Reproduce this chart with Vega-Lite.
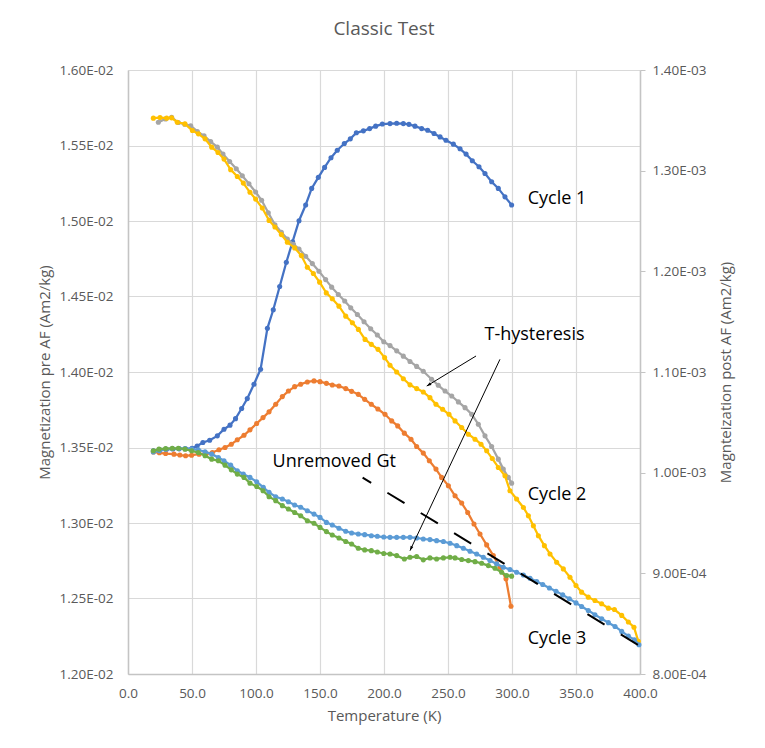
{
  "$schema": "https://vega.github.io/schema/vega-lite/v6.json",
  "width": 512,
  "height": 604,
  "autosize": {"type": "none"},
  "padding": {"left": 128, "top": 70, "right": 125, "bottom": 74},
  "background": "white",
  "title": {"text": "Classic Test", "font": "Open Sans", "fontSize": 19, "fontWeight": "normal", "color": "#595959", "anchor": "middle", "offset": 24},
  "config": {
    "view": {"stroke": null},
    "axis": {"labelFont": "Open Sans", "titleFont": "Open Sans", "labelColor": "#595959", "titleColor": "#595959", "titleFontWeight": "normal", "labelFontSize": 13.5, "titleFontSize": 15, "domainColor": "#C4C4C4", "domainWidth": 1.5, "gridColor": "#D9D9D9", "gridWidth": 1.2, "tickColor": "#C4C4C4"},
    "text": {"font": "Open Sans"}
  },
  "datasets": {
    "s1": [{"T":19.8,"M":0.013478},{"T":25,"M":0.013484},{"T":30,"M":0.013488},{"T":35,"M":0.01349},{"T":40,"M":0.013491},{"T":45,"M":0.013492},{"T":50,"M":0.013495},{"T":54,"M":0.01351},{"T":58.5,"M":0.013533},{"T":63.8,"M":0.013548},{"T":69.8,"M":0.013577},{"T":75,"M":0.013621},{"T":79.7,"M":0.013648},{"T":84,"M":0.013691},{"T":88.8,"M":0.013758},{"T":93.2,"M":0.013824},{"T":98.4,"M":0.013919},{"T":103.6,"M":0.014018},{"T":108.9,"M":0.014289},{"T":113.5,"M":0.014412},{"T":118.5,"M":0.014566},{"T":123.7,"M":0.014727},{"T":128.6,"M":0.014863},{"T":133.6,"M":0.015002},{"T":138.8,"M":0.015106},{"T":143.5,"M":0.015216},{"T":148.7,"M":0.015289},{"T":153.6,"M":0.015355},{"T":158.6,"M":0.015419},{"T":163.5,"M":0.015469},{"T":169,"M":0.015513},{"T":173.7,"M":0.015544},{"T":178.4,"M":0.015584},{"T":183.9,"M":0.015597},{"T":188.8,"M":0.015612},{"T":193.5,"M":0.015628},{"T":198.7,"M":0.015642},{"T":204.7,"M":0.015645},{"T":209.9,"M":0.015647},{"T":215.1,"M":0.015645},{"T":219.5,"M":0.01564},{"T":224.2,"M":0.015628},{"T":229.4,"M":0.015612},{"T":234.1,"M":0.015601},{"T":239.1,"M":0.015579},{"T":243.8,"M":0.015557},{"T":248.4,"M":0.015535},{"T":254.2,"M":0.015509},{"T":259.4,"M":0.015478},{"T":264.1,"M":0.015443},{"T":269,"M":0.015399},{"T":274.2,"M":0.015359},{"T":278.9,"M":0.015315},{"T":284.1,"M":0.01526},{"T":289.3,"M":0.015216},{"T":294.5,"M":0.01516},{"T":299.7,"M":0.015106}],
    "s2": [{"T":19.8,"M":0.013471},{"T":24.5,"M":0.013465},{"T":29.4,"M":0.01346},{"T":35.9,"M":0.013456},{"T":40.5,"M":0.01345},{"T":45,"M":0.013445},{"T":49.7,"M":0.013449},{"T":55.5,"M":0.013456},{"T":61.2,"M":0.01346},{"T":65.9,"M":0.013467},{"T":71.1,"M":0.013485},{"T":75.8,"M":0.0135},{"T":80.7,"M":0.013522},{"T":85.4,"M":0.013551},{"T":90.6,"M":0.013581},{"T":95.3,"M":0.013617},{"T":100.5,"M":0.013659},{"T":105.5,"M":0.013698},{"T":110.2,"M":0.013736},{"T":115.4,"M":0.013786},{"T":120.6,"M":0.013837},{"T":125.3,"M":0.013874},{"T":130.2,"M":0.013903},{"T":134.9,"M":0.013919},{"T":140.1,"M":0.013934},{"T":145.3,"M":0.013941},{"T":150,"M":0.013936},{"T":155,"M":0.013925},{"T":159.6,"M":0.013914},{"T":164.8,"M":0.013907},{"T":170.1,"M":0.01389},{"T":174.7,"M":0.013872},{"T":179.9,"M":0.013852},{"T":184.9,"M":0.013819},{"T":190.1,"M":0.013786},{"T":195.2,"M":0.013755},{"T":200.8,"M":0.01372},{"T":206,"M":0.013676},{"T":210.7,"M":0.013643},{"T":215.9,"M":0.013595},{"T":221.1,"M":0.013555},{"T":225.5,"M":0.013507},{"T":230.7,"M":0.013463},{"T":235.4,"M":0.013412},{"T":240.6,"M":0.013357},{"T":245,"M":0.013302},{"T":250.3,"M":0.013247},{"T":255.5,"M":0.01318},{"T":260.7,"M":0.013132},{"T":265.4,"M":0.01307},{"T":270.3,"M":0.012993},{"T":275,"M":0.012927},{"T":280.2,"M":0.012855},{"T":285.4,"M":0.012784},{"T":290.6,"M":0.012707},{"T":295.3,"M":0.01263},{"T":299.2,"M":0.012449}],
    "s3": [{"T":23.7,"M":0.015654},{"T":29.4,"M":0.015676},{"T":34.1,"M":0.015687},{"T":39.3,"M":0.015652},{"T":44.3,"M":0.015641},{"T":49,"M":0.01563},{"T":54.2,"M":0.015593},{"T":59.4,"M":0.015564},{"T":64.6,"M":0.015526},{"T":69.8,"M":0.015489},{"T":74.2,"M":0.015443},{"T":79.4,"M":0.015394},{"T":84.6,"M":0.015346},{"T":89.3,"M":0.0153},{"T":94.5,"M":0.015247},{"T":99.7,"M":0.015192},{"T":104.4,"M":0.015137},{"T":109.6,"M":0.015055},{"T":114.8,"M":0.014975},{"T":119.8,"M":0.014925},{"T":124.5,"M":0.01488},{"T":129.3,"M":0.014845},{"T":133.6,"M":0.014815},{"T":138.8,"M":0.014767},{"T":144,"M":0.014718},{"T":149.2,"M":0.014667},{"T":154.4,"M":0.014612},{"T":159.1,"M":0.014562},{"T":164.3,"M":0.014513},{"T":169.3,"M":0.01447},{"T":174,"M":0.014425},{"T":179.2,"M":0.014381},{"T":184.4,"M":0.014333},{"T":189.6,"M":0.014286},{"T":194.8,"M":0.014245},{"T":199.8,"M":0.0142},{"T":204.7,"M":0.014175},{"T":209.9,"M":0.01414},{"T":215.1,"M":0.014105},{"T":220.3,"M":0.01407},{"T":225.5,"M":0.014037},{"T":230.7,"M":0.014005},{"T":237.2,"M":0.013952},{"T":242.4,"M":0.013912},{"T":247.7,"M":0.013874},{"T":252.9,"M":0.013841},{"T":258.1,"M":0.013802},{"T":263.3,"M":0.013764},{"T":268.5,"M":0.01372},{"T":273.7,"M":0.013654},{"T":278.9,"M":0.013577},{"T":284.1,"M":0.013507},{"T":289.3,"M":0.013423},{"T":293.2,"M":0.013357},{"T":297.1,"M":0.013302},{"T":299.7,"M":0.013264}],
    "s4": [{"T":19.8,"M":0.015681},{"T":25,"M":0.015685},{"T":30.2,"M":0.015681},{"T":34.1,"M":0.015683},{"T":38.5,"M":0.015654},{"T":44.5,"M":0.015643},{"T":50.3,"M":0.015599},{"T":55,"M":0.015577},{"T":60.2,"M":0.015544},{"T":65.4,"M":0.015489},{"T":70.3,"M":0.015454},{"T":75,"M":0.01541},{"T":80.2,"M":0.01534},{"T":85.4,"M":0.015295},{"T":90.1,"M":0.015251},{"T":95.3,"M":0.01519},{"T":99.7,"M":0.015145},{"T":104.9,"M":0.015086},{"T":110.2,"M":0.015004},{"T":114.8,"M":0.01496},{"T":119.8,"M":0.01491},{"T":124.5,"M":0.014859},{"T":130.2,"M":0.014822},{"T":135.4,"M":0.014771},{"T":140.1,"M":0.014694},{"T":144.8,"M":0.014652},{"T":149.7,"M":0.014595},{"T":154.9,"M":0.014524},{"T":159.6,"M":0.014485},{"T":164.8,"M":0.014436},{"T":170.1,"M":0.01437},{"T":175.3,"M":0.014326},{"T":180,"M":0.014282},{"T":185.2,"M":0.014216},{"T":190.1,"M":0.014183},{"T":195.3,"M":0.01415},{"T":200.5,"M":0.014095},{"T":204.7,"M":0.014045},{"T":209.9,"M":0.014},{"T":215.1,"M":0.013955},{"T":220.3,"M":0.013915},{"T":225.5,"M":0.01389},{"T":230.7,"M":0.013868},{"T":235.9,"M":0.01383},{"T":240.6,"M":0.013786},{"T":245.8,"M":0.013753},{"T":250.8,"M":0.01372},{"T":255.5,"M":0.013676},{"T":260.7,"M":0.013632},{"T":265.9,"M":0.013588},{"T":271.1,"M":0.013555},{"T":275.8,"M":0.013522},{"T":280.2,"M":0.013478},{"T":284.6,"M":0.013427},{"T":289.3,"M":0.013368},{"T":294.5,"M":0.013313},{"T":298.4,"M":0.013214},{"T":303.6,"M":0.013159},{"T":308.9,"M":0.013103},{"T":312.8,"M":0.013048},{"T":316.7,"M":0.012982},{"T":320.6,"M":0.012916},{"T":325.3,"M":0.01285},{"T":329.7,"M":0.012795},{"T":334.9,"M":0.01274},{"T":340.1,"M":0.012696},{"T":345.3,"M":0.012641},{"T":350,"M":0.012586},{"T":354.4,"M":0.012542},{"T":359.6,"M":0.012509},{"T":364.8,"M":0.012487},{"T":370,"M":0.012465},{"T":375.3,"M":0.012436},{"T":380,"M":0.012427},{"T":385.7,"M":0.012388},{"T":390.9,"M":0.012344},{"T":395.3,"M":0.01231},{"T":398.7,"M":0.012216}],
    "s5": [{"T":19.8,"M":0.013471},{"T":24.5,"M":0.013478},{"T":29.4,"M":0.013489},{"T":34.6,"M":0.013493},{"T":39.8,"M":0.013493},{"T":44.5,"M":0.013493},{"T":49.7,"M":0.013489},{"T":54.9,"M":0.013485},{"T":60.2,"M":0.013471},{"T":65.4,"M":0.013456},{"T":70.6,"M":0.013434},{"T":75,"M":0.013412},{"T":80.2,"M":0.013383},{"T":85.4,"M":0.013346},{"T":90.1,"M":0.013324},{"T":95.3,"M":0.013302},{"T":100.5,"M":0.013273},{"T":105.7,"M":0.013236},{"T":110.2,"M":0.013203},{"T":115.4,"M":0.013174},{"T":120.6,"M":0.013159},{"T":125.3,"M":0.013141},{"T":130.2,"M":0.013119},{"T":134.9,"M":0.013104},{"T":140.1,"M":0.013081},{"T":145.3,"M":0.013059},{"T":150,"M":0.013037},{"T":155,"M":0.013004},{"T":159.6,"M":0.012987},{"T":164.8,"M":0.012965},{"T":170.1,"M":0.012945},{"T":174.7,"M":0.012934},{"T":179.9,"M":0.012927},{"T":184.9,"M":0.012923},{"T":190.1,"M":0.012916},{"T":194.8,"M":0.012912},{"T":199.8,"M":0.012907},{"T":204.7,"M":0.012905},{"T":209.9,"M":0.012905},{"T":215.1,"M":0.012905},{"T":220.3,"M":0.012905},{"T":225.5,"M":0.012901},{"T":230.7,"M":0.012894},{"T":235.9,"M":0.01289},{"T":241.1,"M":0.012883},{"T":246.4,"M":0.012877},{"T":251.6,"M":0.012866},{"T":256.8,"M":0.01285},{"T":262,"M":0.012833},{"T":267.2,"M":0.012813},{"T":272.4,"M":0.012795},{"T":277.6,"M":0.012773},{"T":282.8,"M":0.012751},{"T":288,"M":0.012729},{"T":293.2,"M":0.012707},{"T":298.4,"M":0.012692},{"T":303.6,"M":0.012674},{"T":308.9,"M":0.012656},{"T":314.1,"M":0.012634},{"T":319.3,"M":0.012612},{"T":324,"M":0.012593},{"T":329.2,"M":0.01257},{"T":334.4,"M":0.012548},{"T":339.6,"M":0.012524},{"T":344.8,"M":0.012498},{"T":350,"M":0.012471},{"T":354.4,"M":0.012447},{"T":359.6,"M":0.012421},{"T":364.8,"M":0.012392},{"T":370.1,"M":0.012366},{"T":375.3,"M":0.01234},{"T":380.5,"M":0.012315},{"T":385.7,"M":0.012282},{"T":390.9,"M":0.012251},{"T":395.6,"M":0.012227},{"T":399.2,"M":0.012194}],
    "s6": [{"T":19.8,"M":0.013478},{"T":24.2,"M":0.013489},{"T":29.4,"M":0.013493},{"T":34.6,"M":0.013495},{"T":39.3,"M":0.013495},{"T":44.5,"M":0.013489},{"T":49.7,"M":0.013478},{"T":54.9,"M":0.013467},{"T":60.2,"M":0.013445},{"T":65.4,"M":0.013423},{"T":70.6,"M":0.013412},{"T":75.8,"M":0.013383},{"T":80.7,"M":0.013352},{"T":85.4,"M":0.013324},{"T":90.6,"M":0.013302},{"T":95.3,"M":0.013264},{"T":100.5,"M":0.013242},{"T":105.5,"M":0.013214},{"T":110.2,"M":0.013174},{"T":115.4,"M":0.013148},{"T":120.6,"M":0.013115},{"T":125.3,"M":0.013093},{"T":130.2,"M":0.01307},{"T":134.9,"M":0.013048},{"T":140.1,"M":0.013015},{"T":145.3,"M":0.012998},{"T":150,"M":0.012971},{"T":155,"M":0.012943},{"T":159.6,"M":0.012921},{"T":164.8,"M":0.012901},{"T":170.1,"M":0.012877},{"T":174.7,"M":0.012861},{"T":179.9,"M":0.012833},{"T":184.9,"M":0.012822},{"T":190.1,"M":0.012817},{"T":194.8,"M":0.012808},{"T":199.8,"M":0.012798},{"T":204.7,"M":0.012795},{"T":209.9,"M":0.012784},{"T":215.9,"M":0.012762},{"T":220.3,"M":0.012773},{"T":225.5,"M":0.012778},{"T":230.7,"M":0.012756},{"T":235.9,"M":0.012769},{"T":241.1,"M":0.012762},{"T":246.4,"M":0.012769},{"T":251.6,"M":0.012773},{"T":255.5,"M":0.012769},{"T":260.7,"M":0.012758},{"T":265.9,"M":0.012751},{"T":271.1,"M":0.012744},{"T":276.3,"M":0.012733},{"T":281.5,"M":0.012718},{"T":286.7,"M":0.0127},{"T":291.9,"M":0.012674},{"T":295.8,"M":0.012652},{"T":299.7,"M":0.012648}],
    "gt": [{"T":183.3,"M":0.0133},{"T":400,"M":0.012185}],
    "arrow1": [{"T":271.9,"M":0.014106,"T2":233.4,"M2":0.013907}],
    "arrow2": [{"T":290.6,"M":0.014084,"T2":220.3,"M2":0.012817}],
    "cycles": [{"label":"Cycle 1","T":312.3,"M":0.015146},{"label":"Cycle 2","T":312.3,"M":0.013185},{"label":"Cycle 3","T":312.3,"M":0.012232}],
    "notes": [{"label":"T-hysteresis","T":317.6,"M":0.014245},{"label":"Unremoved Gt","T":161.1,"M":0.013406}],
    "right": [{"R":0.0008},{"R":0.0014}]
  },
  "layer": [
    {
      "layer": [
        {
          "data": {"name": "s1"},
          "mark": {"type": "line", "color": "#4472C4", "strokeWidth": 2.25, "point": {"filled": true, "size": 26, "color": "#4472C4"}},
          "encoding": {
            "x": {"field": "T", "type": "quantitative", "title": "Temperature (K)",
              "scale": {"domain": [0, 400], "nice": false, "zero": false},
              "axis": {"values": [0, 50, 100, 150, 200, 250, 300, 350, 400], "format": ".1f", "grid": true, "ticks": false, "labelPadding": 12, "titlePadding": 9, "labelFlush": false}},
            "y": {"field": "M", "type": "quantitative", "title": "Magnetization pre AF (Am2/kg)",
              "scale": {"domain": [0.012, 0.016], "nice": false, "zero": false},
              "axis": {"values": [0.012, 0.0125, 0.013, 0.0135, 0.014, 0.0145, 0.015, 0.0155, 0.016], "labelExpr": "replace(format(datum.value, '.2e'), 'e-', 'E-0')", "grid": true, "ticks": false, "labelPadding": 15, "titlePadding": 7}}
          }
        },
        {
          "data": {"name": "s2"},
          "mark": {"type": "line", "color": "#ED7D31", "strokeWidth": 2.25, "point": {"filled": true, "size": 26, "color": "#ED7D31"}},
          "encoding": {"x": {"field": "T", "type": "quantitative", "title": "Temperature (K)"}, "y": {"field": "M", "type": "quantitative", "title": "Magnetization pre AF (Am2/kg)"}}
        },
        {
          "data": {"name": "s3"},
          "mark": {"type": "line", "color": "#A5A5A5", "strokeWidth": 2.25, "point": {"filled": true, "size": 26, "color": "#A5A5A5"}},
          "encoding": {"x": {"field": "T", "type": "quantitative", "title": "Temperature (K)"}, "y": {"field": "M", "type": "quantitative", "title": "Magnetization pre AF (Am2/kg)"}}
        },
        {
          "data": {"name": "s4"},
          "mark": {"type": "line", "color": "#FFC000", "strokeWidth": 2.25, "point": {"filled": true, "size": 26, "color": "#FFC000"}},
          "encoding": {"x": {"field": "T", "type": "quantitative", "title": "Temperature (K)"}, "y": {"field": "M", "type": "quantitative", "title": "Magnetization pre AF (Am2/kg)"}}
        },
        {
          "data": {"name": "s5"},
          "mark": {"type": "line", "color": "#5B9BD5", "strokeWidth": 2.25, "point": {"filled": true, "size": 26, "color": "#5B9BD5"}},
          "encoding": {"x": {"field": "T", "type": "quantitative", "title": "Temperature (K)"}, "y": {"field": "M", "type": "quantitative", "title": "Magnetization pre AF (Am2/kg)"}}
        },
        {
          "data": {"name": "s6"},
          "mark": {"type": "line", "color": "#70AD47", "strokeWidth": 2.25, "point": {"filled": true, "size": 26, "color": "#70AD47"}},
          "encoding": {"x": {"field": "T", "type": "quantitative", "title": "Temperature (K)"}, "y": {"field": "M", "type": "quantitative", "title": "Magnetization pre AF (Am2/kg)"}}
        },
        {
          "data": {"name": "gt"},
          "mark": {"type": "line", "color": "#000000", "strokeWidth": 2, "strokeDash": [20, 19], "strokeDashOffset": 10},
          "encoding": {"x": {"field": "T", "type": "quantitative", "title": "Temperature (K)"}, "y": {"field": "M", "type": "quantitative", "title": "Magnetization pre AF (Am2/kg)"}}
        },
        {
          "data": {"name": "arrow1"},
          "mark": {"type": "rule", "color": "#000000", "strokeWidth": 1},
          "encoding": {"x": {"field": "T", "type": "quantitative", "title": "Temperature (K)"}, "y": {"field": "M", "type": "quantitative", "title": "Magnetization pre AF (Am2/kg)"}, "x2": {"field": "T2"}, "y2": {"field": "M2"}}
        },
        {
          "data": {"name": "arrow2"},
          "mark": {"type": "rule", "color": "#000000", "strokeWidth": 1},
          "encoding": {"x": {"field": "T", "type": "quantitative", "title": "Temperature (K)"}, "y": {"field": "M", "type": "quantitative", "title": "Magnetization pre AF (Am2/kg)"}, "x2": {"field": "T2"}, "y2": {"field": "M2"}}
        },
        {
          "data": {"name": "arrow1"},
          "mark": {"type": "point", "shape": "M0,0L-0.55,1.7L0.55,1.7Z", "filled": true, "color": "#000000", "opacity": 1, "size": 30, "angle": 239},
          "encoding": {"x": {"field": "T2", "type": "quantitative", "title": "Temperature (K)"}, "y": {"field": "M2", "type": "quantitative", "title": "Magnetization pre AF (Am2/kg)"}}
        },
        {
          "data": {"name": "arrow2"},
          "mark": {"type": "point", "shape": "M0,0L-0.55,1.7L0.55,1.7Z", "filled": true, "color": "#000000", "opacity": 1, "size": 30, "angle": 205},
          "encoding": {"x": {"field": "T2", "type": "quantitative", "title": "Temperature (K)"}, "y": {"field": "M2", "type": "quantitative", "title": "Magnetization pre AF (Am2/kg)"}}
        },
        {
          "data": {"name": "cycles"},
          "mark": {"type": "text", "align": "left", "baseline": "middle", "fontSize": 18, "color": "#000000", "font": "Open Sans"},
          "encoding": {"x": {"field": "T", "type": "quantitative", "title": "Temperature (K)"}, "y": {"field": "M", "type": "quantitative", "title": "Magnetization pre AF (Am2/kg)"}, "text": {"field": "label"}}
        },
        {
          "data": {"name": "notes"},
          "mark": {"type": "text", "align": "center", "baseline": "middle", "fontSize": 18, "color": "#000000", "font": "Open Sans"},
          "encoding": {"x": {"field": "T", "type": "quantitative", "title": "Temperature (K)"}, "y": {"field": "M", "type": "quantitative", "title": "Magnetization pre AF (Am2/kg)"}, "text": {"field": "label"}}
        }
      ]
    },
    {
      "data": {"name": "right"},
      "mark": {"type": "point", "opacity": 0},
      "encoding": {
        "y": {"field": "R", "type": "quantitative", "title": "Magnteization post AF (Am2/kg)",
          "scale": {"domain": [0.0008, 0.0014], "nice": false, "zero": false},
          "axis": {"orient": "right", "values": [0.0008, 0.0009, 0.001, 0.0011, 0.0012, 0.0013, 0.0014], "labelExpr": "replace(format(datum.value, '.2e'), 'e-', 'E-0')", "grid": false, "ticks": true, "tickSize": 5, "labelPadding": 7, "titlePadding": 13, "titleAngle": 270, "titleBaseline": "top"}}
      }
    }
  ],
  "resolve": {"scale": {"y": "independent"}}
}
